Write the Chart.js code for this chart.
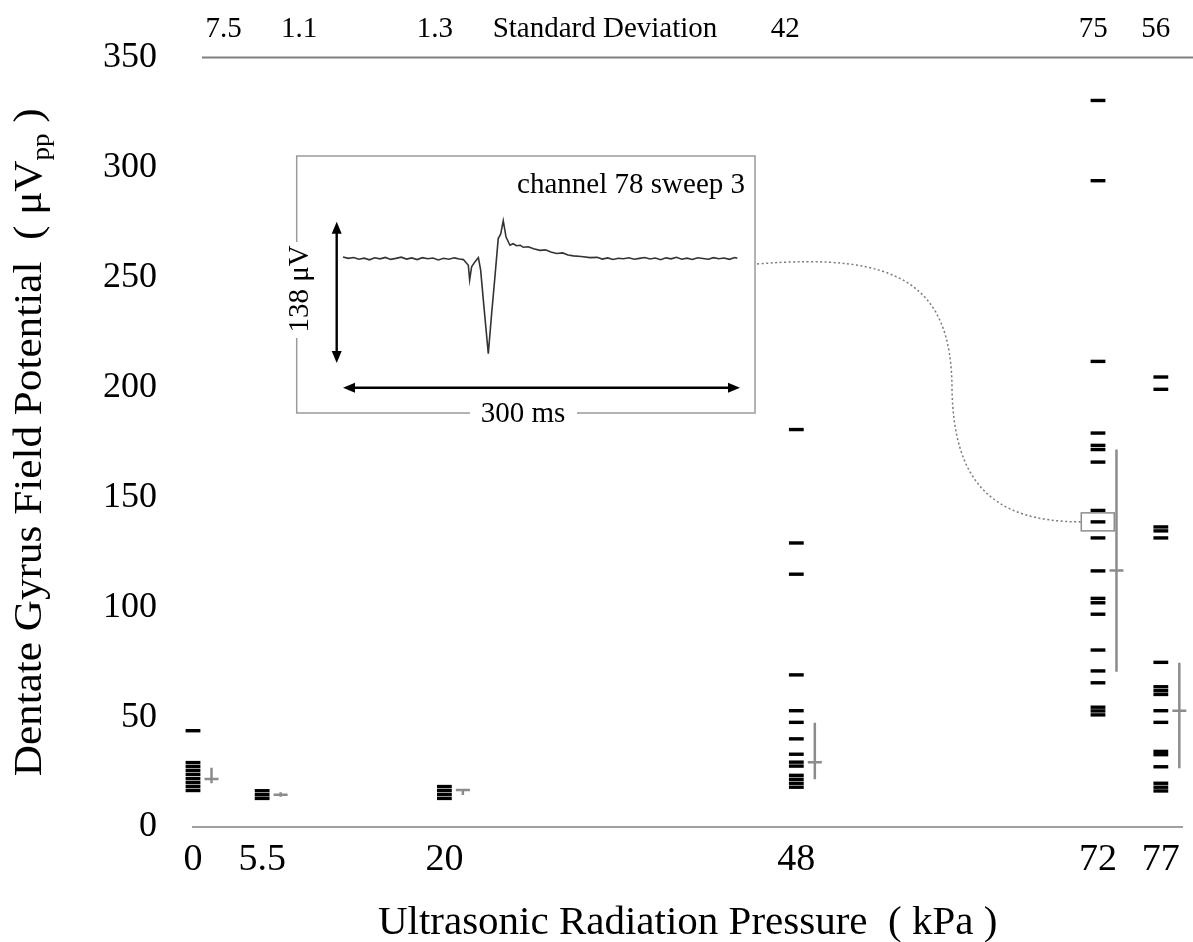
<!DOCTYPE html>
<html>
<head>
<meta charset="utf-8">
<script src="https://cdn.jsdelivr.net/npm/chart.js@4.4.1/dist/chart.umd.min.js"></script>
<style>
  html, body { margin: 0; padding: 0; background: #ffffff; }
  #wrap { position: relative; width: 1193px; height: 942px; overflow: hidden; }
  #mainBox { position: absolute; left: 0; top: 0; width: 1193px; height: 942px; }
  #insetBox { position: absolute; left: 286px; top: 146px; width: 480px; height: 290px; }
</style>
</head>
<body>
<div id="wrap">
  <div id="mainBox"><canvas id="main"></canvas></div>
  <div id="insetBox"><canvas id="inset"></canvas></div>
</div>
<script>
// ---------------- data ----------------
const pressureKPa = [0, 5.5, 20, 48, 72, 77];
const pressureTickLabels = ['0', '5.5', '20', '48', '72', '77'];
const stdDevLabels = ['7.5', '1.1', '1.3', '42', '75', '56'];

const amp_0kPa   = [43.8, 29.3, 27.5, 25.7, 23.9, 22.0, 20.2, 18.4, 16.6];
const amp_5_5kPa = [16.5, 14.7, 13.0];
const amp_20kPa  = [18.4, 16.6, 14.8, 13.0];
const amp_48kPa  = [180.8, 129.2, 115.0, 69.2, 52.9, 47.6, 40.1, 33.1, 29.5, 27.7, 23.5, 21.7, 19.9, 18.1];
const amp_72kPa  = [330.5, 294.0, 211.8, 179.2, 173.6, 171.7, 166.0, 144.0, 138.8, 131.5, 116.5,
                    104.0, 102.0, 96.8, 80.5, 71.0, 65.6, 54.5, 52.8, 51.0];
const amp_77kPa  = [204.7, 199.1, 136.5, 134.7, 131.5, 74.9, 63.8, 62.0, 60.3, 52.9, 47.6,
                    34.4, 32.9, 27.4, 19.9, 18.1, 16.4];

const medianAmp     = [21.8, 14.7, 16.8, 29.4, 116.7, 52.9];
const lowerQuartile = [19.9, 13.8, 14.5, 21.7, 70.6, 26.7];
const upperQuartile = [27.0, 15.8, 16.8, 47.4, 171.7, 74.7];

const examplePressure = 72;    // highlighted recording (channel 78 sweep 3)
const exampleAmp = 138.8;

// example trace (inset): time in ms, amplitude in microvolts relative to baseline
const waveTimeMs = [0, 4, 8, 12, 16, 20, 24, 28, 32, 36, 40, 44, 48, 52, 56, 60, 64, 68, 72, 76, 80, 84, 88, 91,
  94.7, 95.7, 97.2, 99.8, 102.3, 104, 106.5, 109.8, 112.3, 114.8, 117.3, 119.2, 121.1, 123.2, 126.2, 128.5,
  131.2, 134, 136.3, 140, 144, 148.9, 153, 157, 161.5, 166, 170, 174.1, 180, 186.7, 192,
  196, 200, 204, 208, 212, 216, 220, 224, 228, 232, 236, 240, 244, 248, 252, 256, 260, 264, 268, 272,
  276, 280, 284, 288, 292, 296, 298];
const waveAmpUV = [1.5, 0.2, 1.0, -0.6, 0.4, -1.2, 0.8, -0.3, 1.1, -0.8, 0.2, 1.4, -0.5, 0.6, -1.0, 0.9, -0.2, 0.5, -1.3, 0.3, -0.6, 0.7, -0.4, -1.0,
  -6.5, -21, -8, -3, 1, -11, -47, -93, -54, -18, 19.5, 24, 37, 21, 13, 14.5,
  12.5, 13, 11, 11.5, 9.5, 8, 8.5, 6.5, 5, 5.5, 3.5, 2.6, 2.0, 0.9, 1.2,
  -0.5, 0.6, -0.9, 0.3, -0.2, 0.8, -0.7, 0.2, 1.0, -0.4, 0.5, -1.1, 0.7, -0.3, 1.2, -0.6, 0.4, -0.9, 0.8, 0.1,
  -0.7, 0.9, -0.2, 0.6, -0.8, 1.0, 0.2];
const scaleBarUV = '138 \u03BCV';
const scaleBarMs = '300 ms';

// ---------------- styling ----------------
const SERIF = '"Liberation Serif", "Times New Roman", serif';
Chart.defaults.font.family = SERIF;
Chart.defaults.color = '#000';

const groups = [amp_0kPa, amp_5_5kPa, amp_20kPa, amp_48kPa, amp_72kPa, amp_77kPa];
const IQR_OFFSET_PX = 18.5;
const sdLabelDx = [30.5, 37, -9.6, -11, -4.7, -5];

function drawArrow2(ctx, x1, y1, x2, y2, head, half) {
  const dx = x2 - x1, dy = y2 - y1, len = Math.hypot(dx, dy);
  const ux = dx / len, uy = dy / len, nx = -uy, ny = ux;
  ctx.beginPath();
  ctx.moveTo(x1 + ux * head * 0.8, y1 + uy * head * 0.8);
  ctx.lineTo(x2 - ux * head * 0.8, y2 - uy * head * 0.8);
  ctx.stroke();
  [[x1, y1, 1], [x2, y2, -1]].forEach(([px, py, s]) => {
    ctx.beginPath();
    ctx.moveTo(px, py);
    ctx.lineTo(px + s * ux * head + nx * half, py + s * uy * head + ny * half);
    ctx.lineTo(px + s * ux * head - nx * half, py + s * uy * head - ny * half);
    ctx.closePath();
    ctx.fill();
  });
}

const mainDecor = {
  id: 'mainDecor',
  afterDatasetsDraw(chart) {
    const { ctx, scales: { x, y } } = chart;
    ctx.save();
    // median with interquartile bar, beside each group
    ctx.strokeStyle = '#8c8c8c';
    ctx.lineWidth = 2.5;
    pressureKPa.forEach((p, i) => {
      const cx = x.getPixelForValue(p) + IQR_OFFSET_PX;
      const my = y.getPixelForValue(medianAmp[i]);
      ctx.beginPath();
      ctx.moveTo(cx, y.getPixelForValue(lowerQuartile[i]));
      ctx.lineTo(cx, y.getPixelForValue(upperQuartile[i]));
      ctx.moveTo(cx - 7, my);
      ctx.lineTo(cx + 7, my);
      ctx.stroke();
    });
    // box around the example recording
    const bx = x.getPixelForValue(examplePressure);
    const by = y.getPixelForValue(exampleAmp);
    ctx.strokeStyle = '#8c8c8c';
    ctx.lineWidth = 1.5;
    ctx.strokeRect(bx - 16.7, by - 9, 33, 18);
    // dotted connector from inset to box
    ctx.setLineDash([2, 2.5]);
    ctx.lineWidth = 1.5;
    ctx.strokeStyle = '#7a7a7a';
    ctx.beginPath();
    ctx.moveTo(757, 264);
    ctx.bezierCurveTo(900, 252, 952, 285, 952, 390);
    ctx.bezierCurveTo(954, 480, 990, by, bx - 16.7, by);
    ctx.stroke();
    ctx.setLineDash([]);
    ctx.restore();
  },
  afterDraw(chart) {
    const { ctx, chartArea, scales: { x } } = chart;
    ctx.save();
    // top rule
    ctx.strokeStyle = '#808080';
    ctx.lineWidth = 2;
    ctx.beginPath();
    ctx.moveTo(chartArea.left + 9, chartArea.top);
    ctx.lineTo(1193, chartArea.top);
    ctx.stroke();
    // standard deviation labels
    ctx.fillStyle = '#000';
    ctx.font = '29px ' + SERIF;
    ctx.textAlign = 'center';
    ctx.textBaseline = 'alphabetic';
    stdDevLabels.forEach((t, i) => {
      ctx.fillText(t, x.getPixelForValue(pressureKPa[i]) + sdLabelDx[i], 37);
    });
    ctx.fillText('Standard Deviation', chartArea.left + 412, 37);
    // y title with subscript
    const cy = (chartArea.top + chartArea.bottom) / 2;
    ctx.translate(41, cy);
    ctx.rotate(-Math.PI / 2);
    ctx.scale(1.08, 1);
    const big = '40px ' + SERIF, small = '25px ' + SERIF;
    const p1 = 'Dentate Gyrus Field Potential  ( \u03BCV', p2 = 'pp', p3 = ' )';
    ctx.font = big; const w1 = ctx.measureText(p1).width, w3 = ctx.measureText(p3).width;
    ctx.font = small; const w2 = ctx.measureText(p2).width;
    let x0 = -(w1 + w2 + w3) / 2;
    ctx.textAlign = 'left';
    ctx.font = big; ctx.fillText(p1, x0, 0); x0 += w1;
    ctx.font = small; ctx.fillText(p2, x0, 8); x0 += w2;
    ctx.font = big; ctx.fillText(p3, x0, 0);
    ctx.restore();
  }
};

new Chart(document.getElementById('main'), {
  type: 'scatter',
  data: {
    datasets: groups.map((arr, i) => ({
      label: pressureTickLabels[i] + ' kPa',
      data: arr.map(v => ({ x: pressureKPa[i], y: v })),
      pointStyle: 'line',
      pointRadius: 7.4,
      pointBorderWidth: 3.4,
      borderWidth: 3.4,
      borderColor: '#000',
      backgroundColor: '#000',
      pointBorderColor: '#000',
      clip: false
    }))
  },
  options: {
    responsive: true,
    maintainAspectRatio: false,
    animation: false,
    events: [],
    layout: { padding: { top: 57, right: 3, bottom: 0, left: 0 } },
    plugins: { legend: { display: false }, tooltip: { enabled: false } },
    scales: {
      x: {
        type: 'linear',
        min: 0,
        max: 78.7,
        afterBuildTicks: s => { s.ticks = pressureKPa.map(v => ({ value: v })); },
        afterFit: s => { s.height = 115; },
        ticks: {
          autoSkip: false, maxRotation: 0, padding: 10,
          font: { size: 38 }, color: '#000',
          callback: v => pressureTickLabels[pressureKPa.indexOf(v)]
        },
        grid: { display: false, drawTicks: false },
        border: { display: true, color: '#a0a0a0', width: 2 },
        title: {
          display: true, text: 'Ultrasonic Radiation Pressure  ( kPa )',
          font: { size: 41, lineHeight: 1 }, color: '#000', padding: { top: 0, bottom: -2 }
        }
      },
      y: {
        min: 0, max: 350,
        afterFit: s => { s.width = 193; },
        ticks: { stepSize: 50, padding: 36, font: { size: 36 }, color: '#000' },
        grid: { display: false, drawTicks: false },
        border: { display: false }
      }
    }
  },
  plugins: [mainDecor]
});

// ---------------- inset: example trace ----------------
const insetDecor = {
  id: 'insetDecor',
  afterDraw(chart) {
    const { ctx, chartArea: a } = chart;
    ctx.save();
    // frame
    ctx.strokeStyle = '#9a9a9a';
    ctx.lineWidth = 1.5;
    ctx.strokeRect(10.7, 10, 458.3, 257);
    // gaps for labels on the frame
    ctx.fillStyle = '#fff';
    ctx.fillRect(2, 96, 26, 96);
    ctx.fillRect(184, 258, 107, 24);
    ctx.fillStyle = '#000';
    // "300 ms"
    ctx.font = '29px ' + SERIF;
    ctx.textAlign = 'center';
    ctx.textBaseline = 'middle';
    ctx.fillText(scaleBarMs, 237, 268);
    // "138 µV"
    ctx.save();
    ctx.translate(14, 143);
    ctx.rotate(-Math.PI / 2);
    ctx.fillText(scaleBarUV, 0, 0);
    ctx.restore();
    // title
    ctx.textAlign = 'right';
    ctx.textBaseline = 'alphabetic';
    ctx.fillText('channel 78 sweep 3', 459, 47);
    // scale bar arrows
    ctx.strokeStyle = '#000';
    ctx.lineWidth = 2.4;
    drawArrow2(ctx, a.left - 6.3, a.top, a.left - 6.3, a.bottom, 12, 5);
    drawArrow2(ctx, a.left, a.bottom + 24.7, a.right, a.bottom + 24.7, 12, 5);
    ctx.restore();
  }
};

new Chart(document.getElementById('inset'), {
  type: 'line',
  data: {
    datasets: [{
      data: waveTimeMs.map((t, i) => ({ x: t, y: waveAmpUV[i] })),
      borderColor: '#333333',
      borderWidth: 1.6,
      pointRadius: 0,
      tension: 0,
      clip: false
    }]
  },
  options: {
    responsive: true,
    maintainAspectRatio: false,
    animation: false,
    events: [],
    layout: { padding: { left: 57, right: 26, top: 75.7, bottom: 73 } },
    plugins: { legend: { display: false }, tooltip: { enabled: false } },
    scales: {
      x: { type: 'linear', min: 0, max: 300, display: false },
      y: { min: -102, max: 36, display: false }
    }
  },
  plugins: [insetDecor]
});
</script>
</body>
</html>
